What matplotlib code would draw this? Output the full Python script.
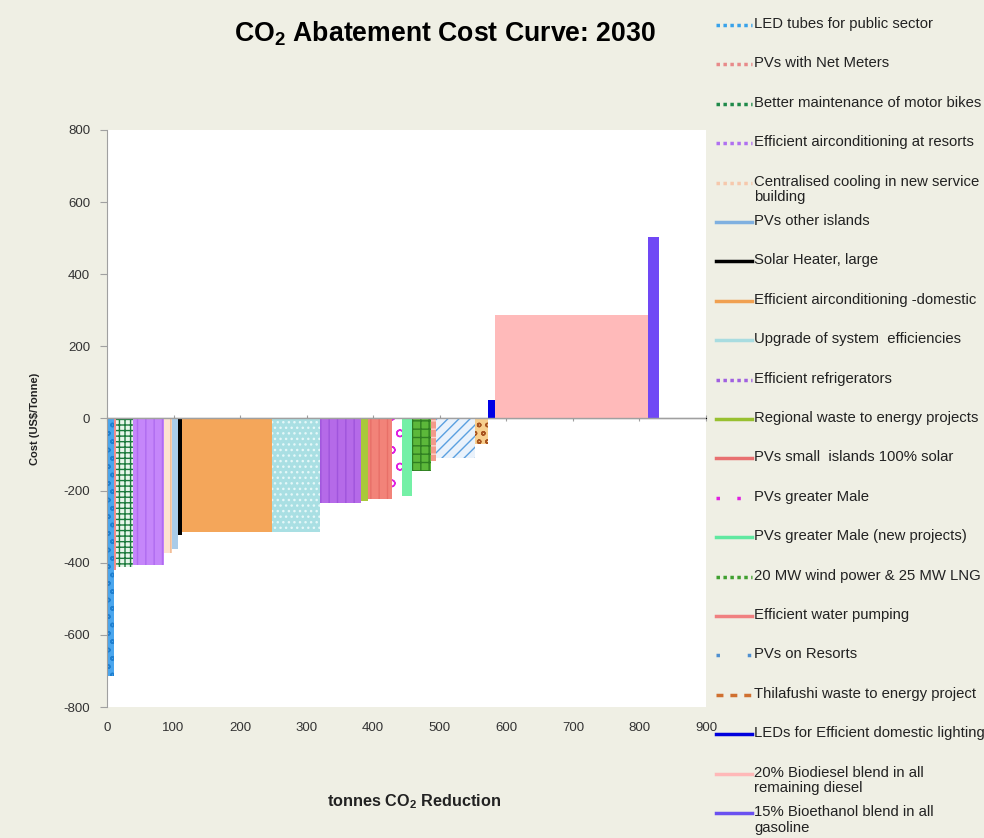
import numpy as np
import matplotlib
matplotlib.use("Agg")
import matplotlib.pyplot as plt
from matplotlib.lines import Line2D

plt.rcParams["font.family"] = ["Liberation Sans", "DejaVu Sans"]
plt.rcParams["axes.unicode_minus"] = False
plt.rcParams["mathtext.fontset"] = "custom"
plt.rcParams["mathtext.rm"] = "Liberation Sans"
plt.rcParams["mathtext.bf"] = "Liberation Sans:bold"

###############################################################################
# Data: abatement options, width = tonnes CO2 reduction, height = cost
options = [
    "LED tubes for public sector",
    "PVs with Net Meters",
    "Better maintenance of motor bikes",
    "Efficient airconditioning at resorts",
    "Centralised cooling in new service\nbuilding",
    "PVs other islands",
    "Solar Heater, large",
    "Efficient airconditioning -domestic",
    "Upgrade of system  efficiencies",
    "Efficient refrigerators",
    "Regional waste to energy projects",
    "PVs small  islands 100% solar",
    "PVs greater Male",
    "PVs greater Male (new projects)",
    "20 MW wind power & 25 MW LNG",
    "Efficient water pumping",
    "PVs on Resorts",
    "Thilafushi waste to energy project",
    "LEDs for Efficient domestic lighting",
    "20% Biodiesel blend in all\nremaining diesel",
    "15% Bioethanol blend in all\ngasoline",
]
reduction = [11, 3, 25, 46, 13, 8, 7, 135, 72, 61, 11, 36, 16, 15, 28, 8, 58, 19, 11, 230, 16]
cost = [-715, -420, -413, -405, -372, -363, -322, -316, -316, -233, -229, -223,
        -205, -215, -146, -118, -110, -72, 51, 286, 504]

x_ticks = np.arange(0, 901, 100)
y_ticks = np.arange(-800, 801, 200)

###############################################################################
# Styles (face, hatch, hatch colour) and legend handle styles
bar_face = ["#4aa6ee", "#f28c8c", "#e6f6ea", "#c586fa", "#fde3cf", "#a9cbe8",
            "#000000", "#f4a65a", "#a9dfe3", "#b56ae8", "#a9c93a", "#f28379",
            "#ffffff", "#74f0a6", "#5cb83a", "#f39a8a", "#eaf2fb", "#f7cf8e",
            "#0000e6", "#ffbaba", "#7048f5"]
bar_hatch = ["oo", "||", "+++", "||", "||", None, None, None, "...", "||", None,
             "||", "o", None, "++", "--", "///", "oo", None, None, None]
hatch_col = ["#1e7fd0", "#ffd0d0", "#1b7a3c", "#b06cf0", "#f0b890", "#a9cbe8",
             "#000000", "#f4a65a", "#e4f7f8", "#a055dc", "#a9c93a", "#e87068",
             "#e020e0", "#74f0a6", "#2f7f22", "#ffd0c8", "#5aa0e0", "#a85420",
             "#0000e6", "#ffbaba", "#7048f5"]
leg_style = [(0, (1, 1)), (0, (1, 1)), (0, (1, 1)), (0, (1, 1)), (0, (1, 1)),
             "-", "-", "-", "-", (0, (1, 1)), "-", "-", (0, (1, 5)), "-",
             (0, (1, 1)), "-", (0, (1, 8)), (0, (2, 2)), "-", "-", "-"]
leg_col = ["#38a2ea", "#e88a8a", "#1f8a4a", "#b070f0", "#f6c8ac", "#7fb0e0",
           "#000000", "#f0a050", "#a8dce0", "#a060e0", "#98c030", "#e87070",
           "#e020e0", "#60e8a0", "#40a030", "#f08080", "#5090d0", "#d07030",
           "#0000dd", "#ffb8b8", "#6a50f0"]

bg = "#efefe4"
fig = plt.figure(figsize=(9.84, 8.38), dpi=100, facecolor=bg)
ax = fig.add_axes([0.1087, 0.1563, 0.6088, 0.6886])
ax.set_facecolor("white")

lefts = np.concatenate([[0], np.cumsum(reduction)[:-1]])
for i in range(len(options)):
    ax.bar(lefts[i], cost[i], width=reduction[i], align="edge",
           color=bar_face[i], hatch=bar_hatch[i], edgecolor=hatch_col[i],
           linewidth=0, zorder=2)

ax.axhline(0, color="#a0a0a0", lw=1, zorder=3)
sec = ax.secondary_xaxis(0.5)
sec.set_xticks(x_ticks)
sec.set_xticklabels([])
sec.tick_params(direction="inout", length=5, color="#a0a0a0")
sec.spines["bottom"].set_visible(False)

ax.set_xlim(0, 900)
ax.set_ylim(-800, 800)
ax.set_xticks(x_ticks)
ax.set_yticks(y_ticks)
ax.tick_params(axis="x", length=0, pad=11, labelsize=9.5, labelcolor="#333333")
ax.tick_params(axis="y", length=5, color="#a0a0a0", labelsize=9.5, labelcolor="#333333", pad=7)
for s in ["top", "right", "bottom"]:
    ax.spines[s].set_visible(False)
ax.spines["left"].set_color("#a0a0a0")

fig.text(0.452, 0.96, r"CO$_\mathbf{2}$ Abatement Cost Curve: 2030", ha="center", va="center",
         fontsize=19.2, fontweight="bold")
fig.text(0.036, 0.5, "Cost (US$/Tonne)", rotation=90, ha="center", va="center",
         fontsize=8, fontweight="bold", color="#222222")
fig.text(0.421, 0.043, r"tonnes CO$_\mathbf{2}$ Reduction", ha="center", va="center",
         fontsize=11.7, fontweight="bold", color="#222222")

# legend drawn on the right, uniform spacing as in the source
top_px, step_px = 25, 39.4
W, H = 984, 838
for i, lab in enumerate(options):
    y = 1 - (top_px + i * step_px) / H
    fig.add_artist(Line2D([716 / W, 752 / W], [y, y], transform=fig.transFigure,
                          color=leg_col[i], lw=2.5, linestyle=leg_style[i]))
    fig.text(754 / W, y + 8 / H, lab, ha="left", va="top", fontsize=10.7,
             color="#222222", linespacing=1.15)

fig.savefig("out.png", dpi=100, facecolor=bg)
